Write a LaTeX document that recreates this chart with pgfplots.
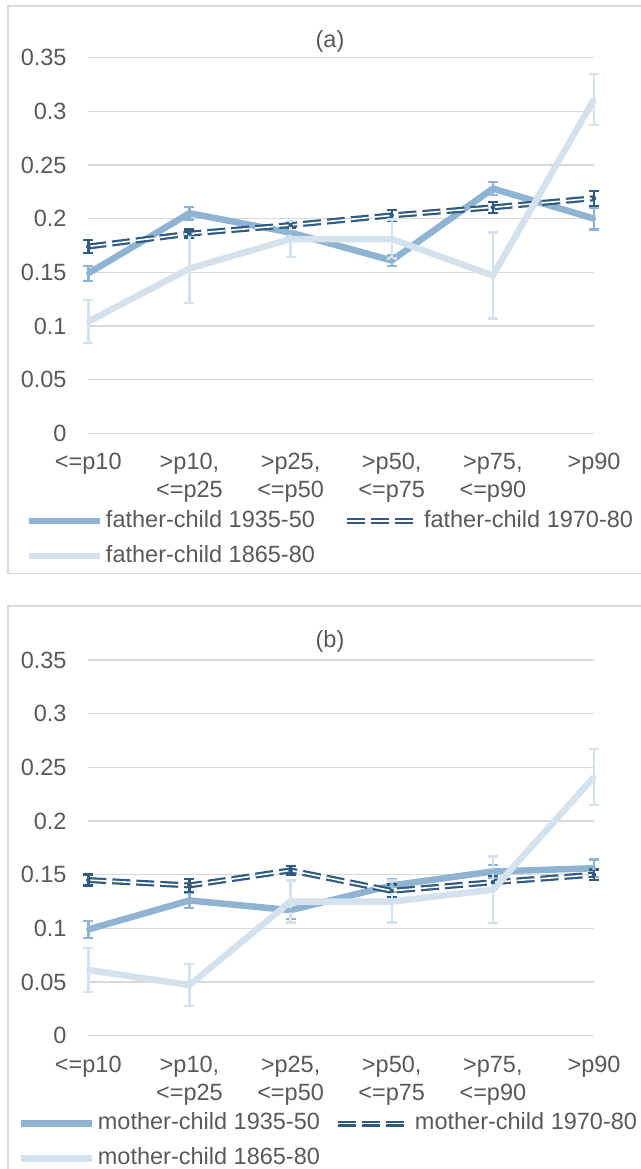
\documentclass[border=0pt]{standalone}
\usepackage{fontspec}
\setmainfont{Liberation Sans}
\usepackage{pgfplots}
\pgfplotsset{compat=1.18}

\definecolor{midblue}{HTML}{8FB3D3}
\definecolor{darkblue}{HTML}{2F5B82}
\definecolor{lightblue}{HTML}{D4E2EE}
\definecolor{txt}{HTML}{595959}
\definecolor{gridc}{HTML}{D9D9D9}

\newcommand{\lblfont}{\fontsize{23.5}{28}\selectfont}

\pgfplotsset{
  panel/.style={
    scale only axis, width=505.7pt, height=375.7pt,
    xmin=0, xmax=5, ymin=0, ymax=0.35, clip=false,
    axis line style={draw=none},
    major tick length=0pt,
    ytick={0,0.05,0.1,0.15,0.2,0.25,0.3,0.35},
    yticklabels={0,0.05,0.1,0.15,0.2,0.25,0.3,0.35},
    xtick={0,1,2,3,4,5},
    xticklabels={{<=p10},{>p10,\\<=p25},{>p25,\\<=p50},{>p50,\\<=p75},{>p75,\\<=p90},{>p90}},
    ymajorgrids, grid style={draw=gridc, line width=1.2pt},
    tick label style={font=\lblfont, text=txt},
    yticklabel style={anchor=east, inner sep=0pt, xshift=-21.6pt},
    xticklabel style={anchor=north, align=center, inner sep=0pt, yshift=-20pt},
    legend columns=2,
    legend cell align=left,
    legend style={draw=none, fill=none, font=\lblfont, text=txt, inner sep=0pt,
      row sep=13pt,
      nodes={inner sep=0pt, text height=17pt, text depth=5pt},
      /tikz/every odd column/.append style={column sep=3pt},
      /tikz/every even column/.append style={column sep=29pt}},
    legend image code/.code={\draw[#1] (0pt,0pt) -- (71pt,0pt);},
  },
  solidmid/.style={draw=midblue, line width=6.5pt, line join=round, mark=none},
  solidlight/.style={draw=lightblue, line width=6.5pt, line join=round, mark=none},
  dbl/.style={draw=darkblue, line width=2.2pt, double=white, double distance=1.6pt,
    dash pattern=on 18pt off 6pt, mark=none},
  errs/.style={forget plot, color=#1, only marks, mark=none,
    error bars/.cd, y dir=both, y explicit, error mark=|,
    error bar style={draw=#1, line width=2.4pt, solid},
    error mark options={draw=#1, line width=2.4pt, mark size=5pt, solid}},
}

\begin{document}
\begin{tikzpicture}
\path[use as bounding box] (0pt,0pt) rectangle (640pt,-1169pt);

% chart frames
\draw[gridc, line width=1.3pt] (660pt,-6pt) -- (8pt,-6pt) -- (8pt,-573.3pt) -- (660pt,-573.3pt);
\draw[gridc, line width=1.3pt] (660pt,-606pt) -- (8pt,-606pt) -- (8pt,-1200pt);

\node[font=\lblfont, text=txt] at (330pt,-41.7pt) {(a)};
\node[font=\lblfont, text=txt] at (330pt,-641.7pt) {(b)};

% ---------------- panel (a): fathers ----------------
\begin{axis}[panel, at={(88.3pt,-433.3pt)}, anchor=south west,
  legend style={at={(-0.1246,-0.204)}, anchor=north west}]
\addplot[solidmid] coordinates {(0,0.149) (1,0.205) (2,0.187) (3,0.161) (4,0.228) (5,0.200)};
\addlegendentry{father-child 1935-50}
\addplot[errs=midblue] coordinates {
  (0,0.149) +- (0,0.007) (1,0.205) +- (0,0.006) (2,0.187) +- (0,0.004)
  (3,0.161) +- (0,0.005) (4,0.228) +- (0,0.006) (5,0.200) +- (0,0.010)};
\addplot[dbl] coordinates {(0,0.174) (1,0.186) (2,0.194) (3,0.203) (4,0.2105) (5,0.219)};
\addlegendentry{father-child 1970-80}
\addplot[errs=darkblue] coordinates {
  (0,0.174) +- (0,0.006) (1,0.186) +- (0,0.004) (2,0.194) +- (0,0.003)
  (3,0.203) +- (0,0.005) (4,0.2105) +- (0,0.005) (5,0.219) +- (0,0.007)};
\addplot[solidlight] coordinates {(0,0.104) (1,0.1535) (2,0.181) (3,0.181) (4,0.147) (5,0.311)};
\addlegendentry{father-child 1865-80}
\addplot[errs=lightblue] coordinates {
  (0,0.104) +- (0,0.020) (1,0.1535) +- (0,0.032) (2,0.181) +- (0,0.017)
  (3,0.181) +- (0,0.018) (4,0.147) +- (0,0.040) (5,0.311) +- (0,0.024)};
\end{axis}

% ---------------- panel (b): mothers ----------------
\begin{axis}[panel, at={(88.3pt,-1035.7pt)}, anchor=south west,
  legend style={at={(-0.1406,-0.204)}, anchor=north west,
    /tikz/every even column/.append style={column sep=15pt}}]
\addplot[solidmid] coordinates {(0,0.099) (1,0.126) (2,0.117) (3,0.140) (4,0.153) (5,0.156)};
\addlegendentry{mother-child 1935-50}
\addplot[errs=midblue] coordinates {
  (0,0.099) +- (0,0.008) (1,0.126) +- (0,0.007) (2,0.117) +- (0,0.008)
  (3,0.140) +- (0,0.006) (4,0.153) +- (0,0.006) (5,0.156) +- (0,0.008)};
\addplot[dbl] coordinates {(0,0.145) (1,0.140) (2,0.154) (3,0.135) (4,0.143) (5,0.150)};
\addlegendentry{mother-child 1970-80}
\addplot[errs=darkblue] coordinates {
  (0,0.145) +- (0,0.005) (1,0.140) +- (0,0.006) (2,0.154) +- (0,0.004)
  (3,0.135) +- (0,0.006) (4,0.143) +- (0,0.006) (5,0.150) +- (0,0.005)};
\addplot[solidlight] coordinates {(0,0.0612) (1,0.0472) (2,0.125) (3,0.125) (4,0.136) (5,0.241)};
\addlegendentry{mother-child 1865-80}
\addplot[errs=lightblue] coordinates {
  (0,0.0612) +- (0,0.0205) (1,0.0472) +- (0,0.0195) (2,0.125) +- (0,0.0195)
  (3,0.125) +- (0,0.0195) (4,0.136) +- (0,0.031) (5,0.241) +- (0,0.026)};
\end{axis}
\end{tikzpicture}
\end{document}
